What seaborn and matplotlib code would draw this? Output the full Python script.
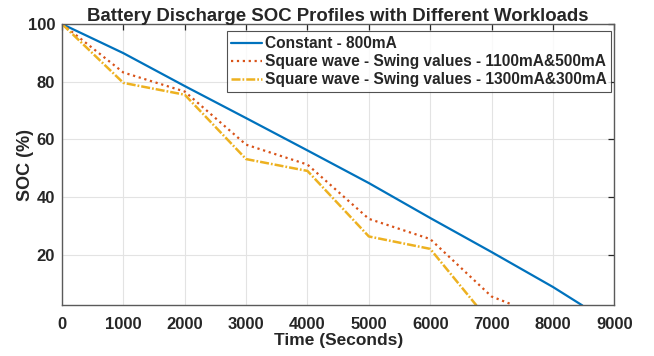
import matplotlib
matplotlib.use('Agg')
import matplotlib.pyplot as plt
import seaborn as sns

# values
t_const = [0, 1000, 2000, 3000, 4000, 5000, 6000, 7000, 8000, 8480]
soc_const = [100, 89.9, 78.5, 67.4, 56.2, 44.9, 32.8, 21.0, 8.9, 2.5]

t_sq1 = [0, 1000, 2000, 3000, 4000, 5000, 6000, 7000, 7336]
soc_sq1 = [100, 83.2, 76.6, 58.2, 51.3, 32.5, 25.5, 5.6, 2.8]

t_sq2 = [0, 1000, 2000, 3000, 4000, 5000, 6000, 6754]
soc_sq2 = [100, 79.6, 75.5, 53.2, 49.1, 26.4, 22.1, 2.5]

labels = ['Constant - 800mA',
          'Square wave - Swing values - 1100mA&500mA',
          'Square wave - Swing values - 1300mA&300mA']

sns.set_style('whitegrid')
plt.rcParams['font.family'] = ['Liberation Sans', 'DejaVu Sans']
plt.rcParams['font.weight'] = 'bold'

fig = plt.figure(figsize=(6.54, 3.56), dpi=100)
ax = fig.add_axes([0.0948, 0.142, 0.8445, 0.7906])

sns.lineplot(x=t_const, y=soc_const, ax=ax, color='#0072BD', lw=1.6,
             label=labels[0], sort=False)
sns.lineplot(x=t_sq1, y=soc_sq1, ax=ax, color='#D95319', lw=1.6,
             linestyle=':', label=labels[1], sort=False)
sns.lineplot(x=t_sq2, y=soc_sq2, ax=ax, color='#EDB120', lw=1.8,
             dashes=(3.6, 0.8, 0.7, 0.8), label=labels[2], sort=False)

ax.set_xlim(0, 9000)
ax.set_ylim(2.5, 100)
ax.set_xticks(range(0, 9001, 1000))
ax.set_yticks([20, 40, 60, 80, 100])
ax.grid(True, color='#e3e3e3', lw=0.8)
for s in ax.spines.values():
    s.set_color('#5a5a5a')
    s.set_linewidth(1.0)
ax.tick_params(direction='in', length=4, width=0.9, color='#262626',
               top=True, right=True, labelsize=12, labelcolor='#262626')
ax.tick_params(axis='x', pad=8)
ax.tick_params(axis='y', pad=5)
for lab in ax.get_xticklabels() + ax.get_yticklabels():
    lab.set_fontweight('bold')

ax.set_xlabel('Time (Seconds)', fontsize=12.5, fontweight='bold', labelpad=1)
ax.set_ylabel('SOC (%)', fontsize=13, fontweight='bold')
ax.yaxis.set_label_coords(-0.05, 0.5)
ax.set_title('Battery Discharge SOC Profiles with Different Workloads',
             fontsize=13.4, fontweight='bold', pad=2)

leg = ax.legend(loc='upper right', bbox_to_anchor=(1.0, 0.985), fontsize=11.2,
                frameon=True, fancybox=False, handlelength=2.0,
                borderpad=0.3, labelspacing=0.2, handletextpad=0.15,
                borderaxespad=0.2)
leg.get_frame().set_edgecolor('#262626')
leg.get_frame().set_linewidth(0.8)
for txt in leg.get_texts():
    txt.set_fontweight('bold')

fig.savefig('out.png', dpi=100)
